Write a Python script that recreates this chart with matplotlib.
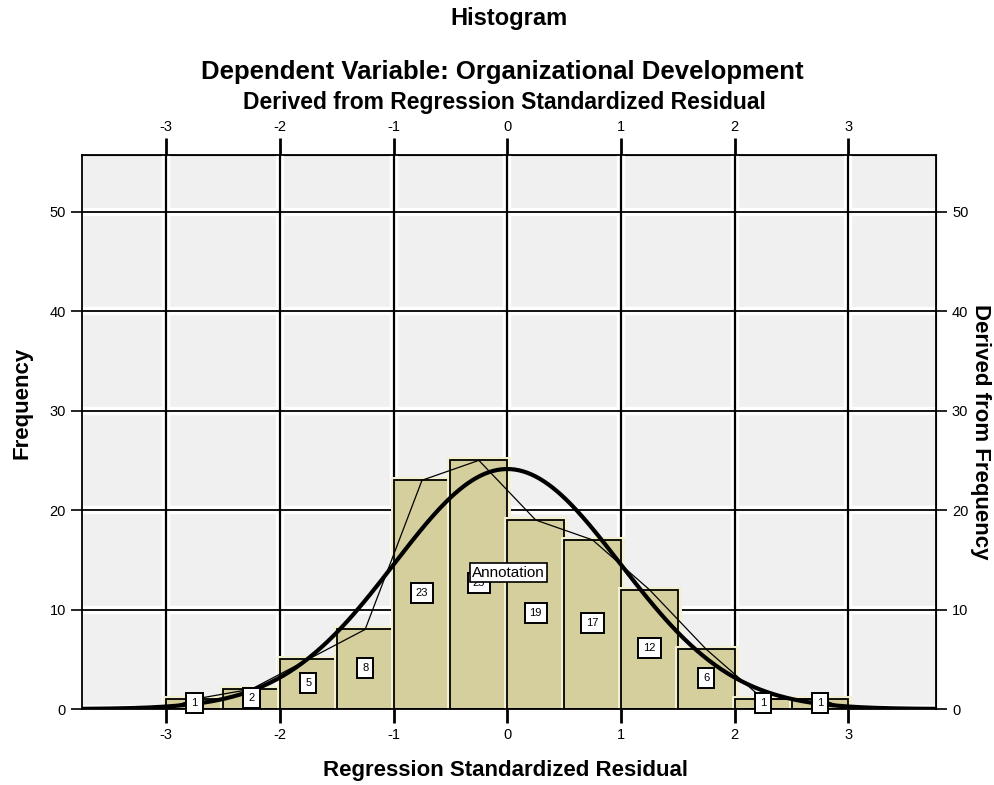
import numpy as np
import matplotlib.pyplot as plt
import matplotlib.patheffects as pe

plt.rcParams['font.family'] = ['Liberation Sans', 'DejaVu Sans']

# histogram data (bin edges width 0.5)
bin_left = [-3.0, -2.5, -2.0, -1.5, -1.0, -0.5, 0.0, 0.5, 1.0, 1.5, 2.0, 2.5]
counts = [1, 2, 5, 8, 23, 25, 19, 17, 12, 6, 1, 1]
bin_width = 0.5
# fitted normal curve parameters
mean_resid = 0.0
sd_resid = 0.992
n_obs = sum(counts)

x_ticks = [-3, -2, -1, 0, 1, 2, 3]
y_ticks = [0, 10, 20, 30, 40, 50]

fig = plt.figure(figsize=(9.95, 7.85), dpi=100)
ax = fig.add_axes([0.0824, 0.0968, 0.8583, 0.7057])
ax.set_xlim(-3.74, 3.77)
ax.set_ylim(0, 55.7)
ax.set_facecolor('#F0F0F0')

# grid: white halo under thin black lines
for xv in x_ticks:
    ax.axvline(xv, color='white', lw=6, zorder=0.5)
    ax.axvline(xv, color='black', lw=1.6, zorder=0.6)
for yv in y_ticks:
    ax.axhline(yv, color='white', lw=6, zorder=0.5)
    ax.axhline(yv, color='black', lw=1.3, zorder=0.6)

bars = ax.bar(bin_left, counts, width=bin_width, align='edge',
              color='#D4CF9C', edgecolor='black', lw=1.3, zorder=2)
for b in bars:
    b.set_path_effects([pe.Stroke(linewidth=5, foreground='#F4F1D2'), pe.Normal()])

# count labels
mids = [l + bin_width / 2 for l in bin_left]
for m, c in zip(mids, counts):
    ax.text(m, c / 2 + 0.15, str(c), ha='center', va='center', fontsize=8,
            zorder=6,
            bbox=dict(boxstyle='square,pad=0.45', fc='white', ec='black', lw=1.4))

# frequency polygon
poly_x = [-3.0] + mids + [3.0]
poly_y = [0] + counts + [0]
ax.plot(poly_x, poly_y, color='black', lw=0.9, zorder=4)

# normal curve
xs = np.linspace(-3.74, 3.77, 400)
ys = n_obs * bin_width / (sd_resid * np.sqrt(2 * np.pi)) * np.exp(-0.5 * ((xs - mean_resid) / sd_resid) ** 2)
ax.plot(xs, ys, color='black', lw=3, zorder=5)

ax.text(0.01, 13.7, 'Annotation', ha='center', va='center', fontsize=11,
        zorder=7,
        bbox=dict(boxstyle='square,pad=0.15', fc='white', ec='black', lw=1.2))

ax.set_xticks(x_ticks)
ax.set_xticklabels([str(v) for v in x_ticks])
ax.set_yticks(y_ticks)
ax.tick_params(axis='both', labelsize=10.5, length=10, width=2, direction='out')
ax.tick_params(axis='y', width=1.2, length=8)
for s in ax.spines.values():
    s.set_linewidth(1.3)

top = ax.secondary_xaxis('top')
top.set_xticks(x_ticks)
top.set_xticklabels([str(v) for v in x_ticks])
top.tick_params(labelsize=10.5, length=12, width=2)

right = ax.secondary_yaxis('right')
right.set_yticks(y_ticks)
right.tick_params(labelsize=10.5, length=8, width=1.2)

fig.text(0.512, 0.977, 'Histogram', ha='center', va='center', fontsize=17, fontweight='bold')
fig.text(0.505, 0.908, 'Dependent Variable: Organizational Development', ha='center',
         va='center', fontsize=18.5, fontweight='bold')
fig.text(0.507, 0.870, 'Derived from Regression Standardized Residual', ha='center',
         va='center', fontsize=16.5, fontweight='bold')
fig.text(0.508, 0.019, 'Regression Standardized Residual', ha='center', va='center',
         fontsize=16, fontweight='bold')
fig.text(0.022, 0.487, 'Frequency', ha='center', va='center', rotation=90,
         fontsize=16, fontweight='bold')
fig.text(0.985, 0.45, 'Derived from Frequency', ha='center', va='center', rotation=-90,
         fontsize=16, fontweight='bold')

fig.savefig('out.png', dpi=100)
